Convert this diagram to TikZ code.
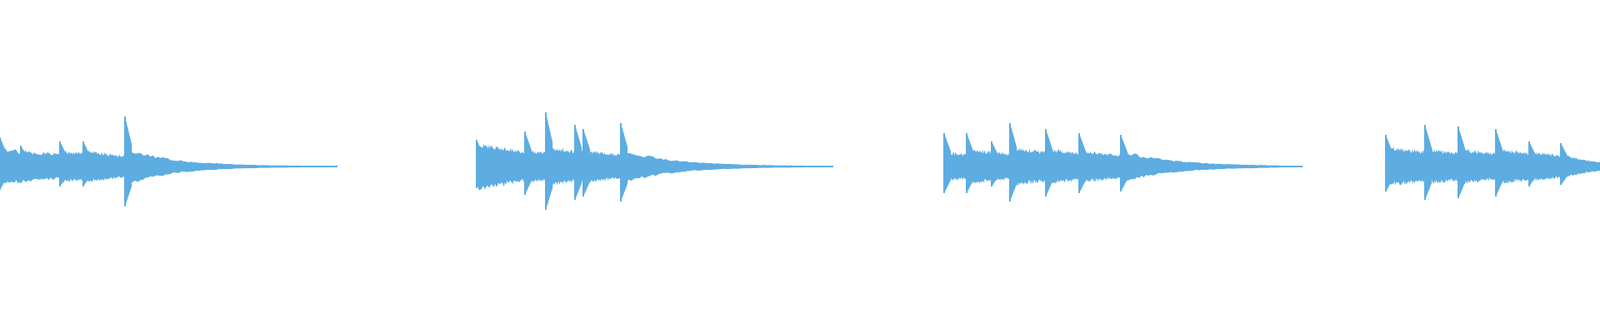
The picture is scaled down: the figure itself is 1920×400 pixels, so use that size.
\documentclass[tikz,border=0pt]{standalone}
\usetikzlibrary{calc}
\definecolor{wave}{RGB}{93,173,226}
\tikzset{
    wavefill/.style = {fill = wave, draw = none},
    waveline/.style = {draw = wave, line width = 0.6pt}
}
% \hit{x0}{body amp}{spike}{tau}{length}
\newcommand{\hit}[5]{%
  \fill[wavefill] (#1,200)
    -- plot[domain=0:#5, samples=70] ({#1+\x},{200+#2*exp(-\x/#4)*(0.75+0.25*rnd)+0.6})
    -- plot[domain=#5:0, samples=70] ({#1+\x},{200-#2*exp(-\x/#4)*(0.75+0.25*rnd)-0.6})
    -- cycle;
  \fill[wavefill] (#1,{200+#3}) -- ({#1+8},{200+0.45*#3}) -- ({#1+8},{200-0.4*#3}) -- (#1,{200-0.8*#3}) -- cycle;
  \draw[waveline] (#1,{200+#3}) -- (#1,{200-0.8*#3});
}
\begin{document}
\begin{tikzpicture}[x=0.01cm, y=0.01cm]
  \useasboundingbox (0,0) rectangle (1920,400);
  % segment 1
  \draw[waveline, line width=0.4pt] (0,200) -- (405,200);
  \hit{0}{22}{35}{200}{150}
  \hit{25}{18}{25}{150}{50}
  \hit{72}{20}{30}{150}{30}
  \hit{100}{20}{30}{120}{50}
  \hit{150}{24}{60}{55}{210}
  % segment 2
  \draw[waveline, line width=0.4pt] (572,200) -- (1000,200);
  \hit{572}{30}{32}{120}{60}
  \hit{630}{20}{42}{150}{30}
  \hit{655}{24}{65}{150}{40}
  \hit{690}{20}{50}{150}{20}
  \hit{700}{20}{45}{150}{45}
  \hit{745}{22}{52}{60}{220}
  % segment 3
  \draw[waveline, line width=0.4pt] (1133,200) -- (1563,200);
  \hit{1133}{18}{40}{150}{30}
  \hit{1160}{22}{40}{150}{30}
  \hit{1190}{18}{30}{150}{22}
  \hit{1212}{24}{52}{150}{45}
  \hit{1255}{22}{45}{150}{40}
  \hit{1295}{20}{40}{150}{50}
  \hit{1345}{20}{38}{60}{190}
  % segment 4
  \hit{1663}{24}{38}{200}{50}
  \hit{1710}{22}{50}{150}{40}
  \hit{1750}{22}{48}{150}{45}
  \hit{1795}{22}{45}{150}{40}
  \hit{1835}{18}{30}{150}{38}
  \hit{1873}{16}{28}{40}{47}
\end{tikzpicture}
\end{document}
